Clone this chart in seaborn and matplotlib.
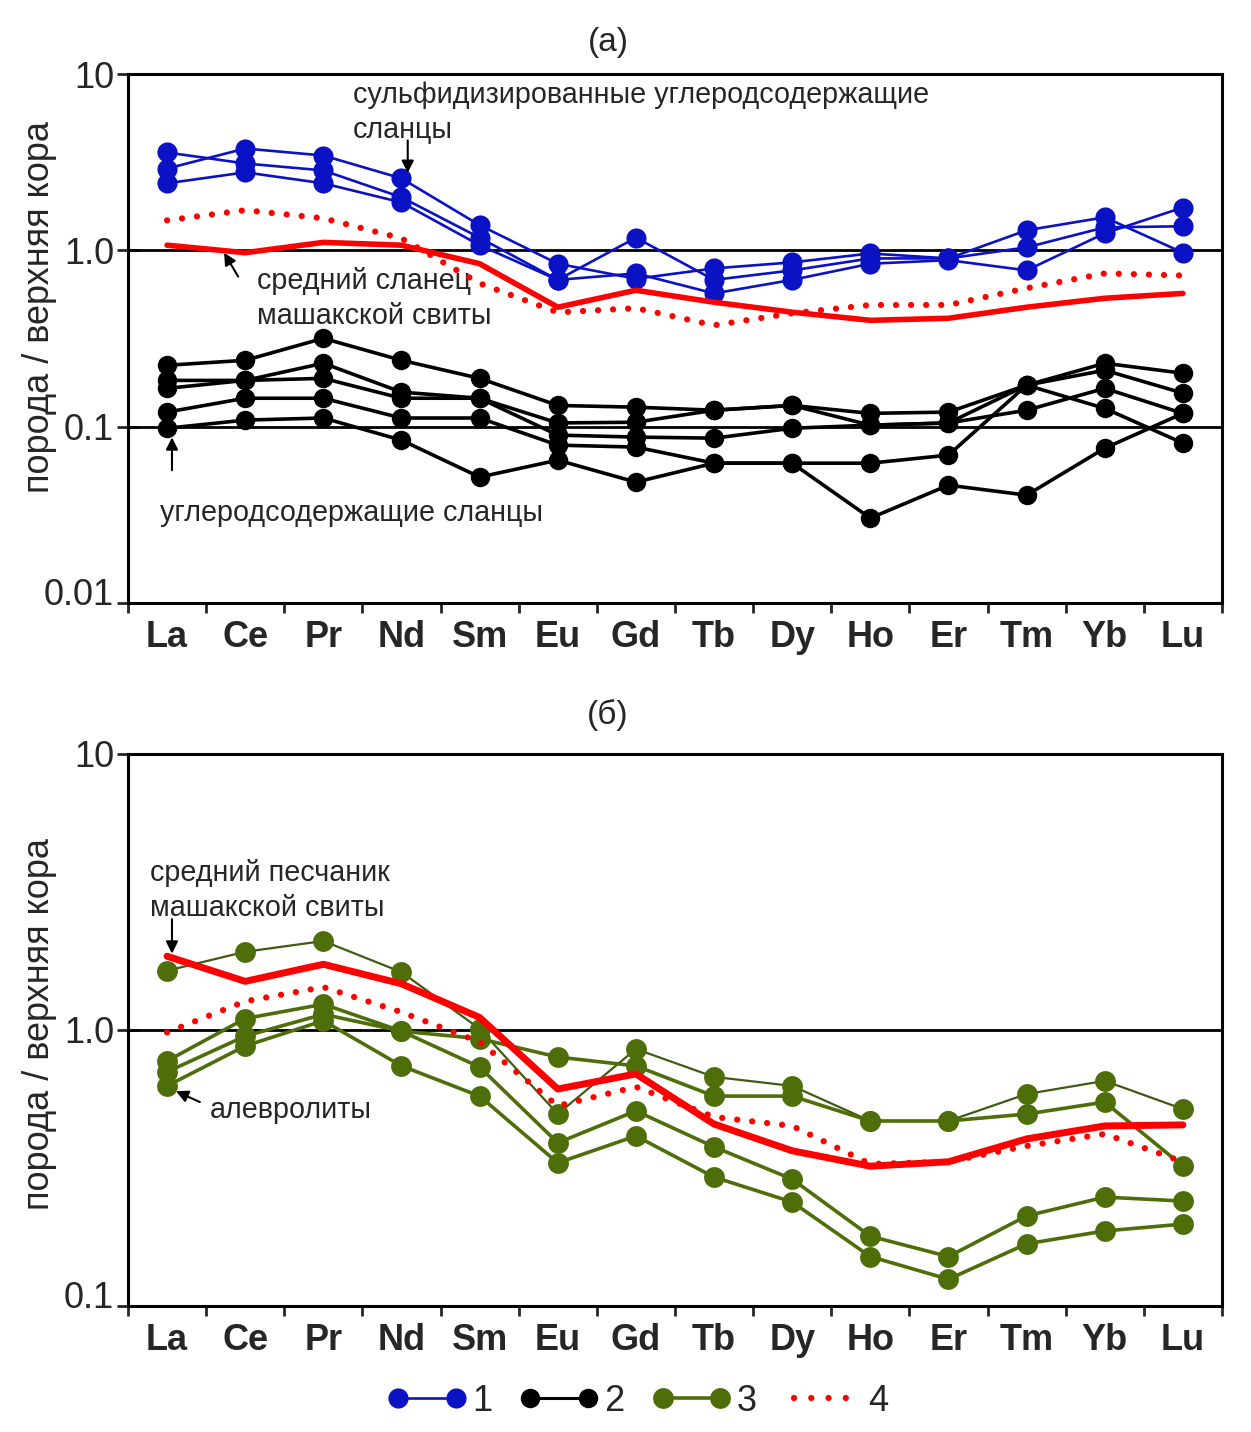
import numpy as np
import pandas as pd
import matplotlib
matplotlib.use('Agg')
import matplotlib.pyplot as plt
import seaborn as sns
from matplotlib.lines import Line2D
from matplotlib.ticker import NullLocator, FixedLocator
from matplotlib.transforms import ScaledTranslation

# 1. Данные (порода / верхняя кора)
elements = ['La', 'Ce', 'Pr', 'Nd', 'Sm', 'Eu', 'Gd', 'Tb', 'Dy', 'Ho', 'Er', 'Tm', 'Yb', 'Lu']

# (а) сульфидизированные углеродсодержащие сланцы
blue_1 = [2.91, 3.78, 3.45, 2.56, 1.39, 0.84, 0.69, 0.79, 0.855, 0.96, 0.90, 1.30, 1.54, 0.97]
blue_2 = [3.59, 3.11, 2.84, 2.00, 1.18, 0.68, 1.18, 0.68, 0.77, 0.90, 0.90, 1.04, 1.35, 1.37]
blue_3 = [2.40, 2.77, 2.40, 1.87, 1.07, 0.68, 0.74, 0.57, 0.68, 0.84, 0.88, 0.77, 1.25, 1.75]

# (а) углеродсодержащие сланцы
black_1 = [0.223, 0.238, 0.317, 0.238, 0.188, 0.132, 0.129, 0.124, 0.132, 0.119, 0.121, 0.172, 0.229, 0.201]
black_2 = [0.183, 0.183, 0.229, 0.157, 0.145, 0.105, 0.106, 0.124, 0.132, 0.102, 0.105, 0.172, 0.209, 0.155]
black_3 = [0.165, 0.183, 0.188, 0.145, 0.145, 0.0896, 0.0873, 0.0861, 0.098, 0.102, 0.105, 0.124, 0.165, 0.119]
black_4 = [0.121, 0.145, 0.145, 0.112, 0.112, 0.0786, 0.0766, 0.0621, 0.0621, 0.0621, 0.069, 0.172, 0.127, 0.0807]
black_5 = [0.098, 0.109, 0.112, 0.0839, 0.0518, 0.0646, 0.0485, 0.0621, 0.0621, 0.0303, 0.0466, 0.0409, 0.0755, 0.119]

# (а) средний сланец машакской свиты и кривая 4
shale_mean = [1.07, 0.97, 1.11, 1.07, 0.84, 0.476, 0.594, 0.508, 0.446, 0.401, 0.412, 0.476, 0.535, 0.57]
dotted_a = [1.48, 1.69, 1.52, 1.17, 0.65, 0.445, 0.47, 0.376, 0.44, 0.49, 0.49, 0.61, 0.74, 0.72]

# (б) алевролиты
green_1 = [1.64, 1.92, 2.10, 1.62, 1.01, 0.496, 0.853, 0.676, 0.627, 0.468, 0.468, 0.586, 0.654, 0.517]
green_2 = [0.772, 1.10, 1.24, 0.99, 0.93, 0.798, 0.741, 0.576, 0.576, 0.468, 0.468, 0.496, 0.548, 0.321]
green_3 = [0.705, 0.95, 1.14, 0.99, 0.734, 0.390, 0.509, 0.377, 0.288, 0.179, 0.151, 0.212, 0.248, 0.240]
green_4 = [0.627, 0.875, 1.08, 0.741, 0.576, 0.330, 0.413, 0.293, 0.238, 0.151, 0.125, 0.168, 0.187, 0.198]

# (б) средний песчаник машакской свиты и кривая 4
sand_mean = [1.85, 1.50, 1.73, 1.47, 1.11, 0.611, 0.693, 0.456, 0.365, 0.321, 0.333, 0.403, 0.449, 0.453]
dotted_b = [0.98, 1.27, 1.43, 1.16, 0.905, 0.531, 0.622, 0.484, 0.449, 0.327, 0.333, 0.380, 0.42, 0.333]

BLUE = '#0b12c4'
GREEN = '#4e6e0a'
GREEN_DARK = '#3f5a12'
RED = '#ff0000'


def long_df(series):
    rows = []
    for name, vals in series.items():
        for i, v in enumerate(vals):
            rows.append({'x': i, 'value': v, 'sample': name})
    return pd.DataFrame(rows)


sns.set_style('ticks')
plt.rcParams['font.family'] = ['Liberation Sans', 'DejaVu Sans']

fig = plt.figure(figsize=(12.51, 14.32), dpi=100)
ax1 = fig.add_axes([0.1023, 0.5789, 0.8745, 0.3694])
ax2 = fig.add_axes([0.1023, 0.0880, 0.8745, 0.3855])

dot_style = (0, (0.01, 2.4))

# 2. Панель (а)
ax1.axhline(1.0, color='black', lw=2, zorder=1)
ax1.axhline(0.1, color='black', lw=2, zorder=1)
sns.lineplot(data=long_df({'k1': black_1, 'k2': black_2, 'k3': black_3, 'k4': black_4, 'k5': black_5}),
             x='x', y='value', units='sample', estimator=None, color='black',
             marker='o', markersize=14, markeredgewidth=0, linewidth=2.6, ax=ax1, zorder=3)
sns.lineplot(data=long_df({'b1': blue_1, 'b2': blue_2, 'b3': blue_3}),
             x='x', y='value', units='sample', estimator=None, color=BLUE,
             marker='o', markersize=14.5, markeredgewidth=0, linewidth=1.9, ax=ax1, zorder=3)
sns.lineplot(x=np.arange(len(elements)), y=shale_mean, color=RED, linewidth=4, ax=ax1, zorder=4)
sns.lineplot(x=np.arange(len(elements)), y=dotted_a, color=RED, linewidth=4.5,
             linestyle=dot_style, dash_capstyle='round', ax=ax1, zorder=4)

# 3. Панель (б)
ax2.axhline(1.0, color='black', lw=2, zorder=1)
sns.lineplot(x=np.arange(len(elements)), y=green_1, color=GREEN_DARK,
             marker='o', markersize=15, markeredgewidth=0, markerfacecolor=GREEN,
             linewidth=1.6, ax=ax2, zorder=3)
sns.lineplot(data=long_df({'g2': green_2, 'g3': green_3, 'g4': green_4}),
             x='x', y='value', units='sample', estimator=None, color=GREEN,
             marker='o', markersize=15, markeredgewidth=0, linewidth=2.6, ax=ax2, zorder=3)
sns.lineplot(x=np.arange(len(elements)), y=sand_mean, color=RED, linewidth=5, ax=ax2, zorder=4)
sns.lineplot(x=np.arange(len(elements)), y=dotted_b, color=RED, linewidth=4.5,
             linestyle=dot_style, dash_capstyle='round', ax=ax2, zorder=4)

# 4. Оформление осей
for ax, ylim, yt, ylab in [(ax1, (0.01, 10), [0.01, 0.1, 1, 10], ['0.01', '0.1', '1.0', '10']),
                           (ax2, (0.1, 10), [0.1, 1, 10], ['0.1', '1.0', '10'])]:
    ax.set_yscale('log')
    ax.set_ylim(*ylim)
    ax.set_xlim(-0.5, 13.5)
    ax.set_yticks(yt)
    ax.set_yticklabels(ylab, fontsize=26)
    ax.yaxis.set_minor_locator(NullLocator())
    ax.tick_params(axis='y', direction='inout', length=16, width=2, pad=2)
    ax.xaxis.set_major_locator(FixedLocator(np.arange(-0.5, 14, 1)))
    ax.xaxis.set_minor_locator(FixedLocator(np.arange(len(elements))))
    ax.set_xticklabels([], minor=False)
    ax.set_xticklabels(elements, minor=True, fontsize=26, fontweight='bold')
    ax.tick_params(axis='x', which='major', direction='out', length=7, width=2)
    ax.tick_params(axis='x', which='minor', length=0, pad=12)
    ax.set_xlabel('')
    ax.set_ylabel('порода / верхняя кора', fontsize=26)
    for s in ax.spines.values():
        s.set_visible(True)
        s.set_linewidth(2.2)
        s.set_color('black')
    # нижняя подпись оси чуть приподнята, как в оригинале
    low = ax.get_yticklabels()[0]
    low.set_transform(low.get_transform() + ScaledTranslation(0, 8 / 72, fig.dpi_scale_trans))

ax1.yaxis.set_label_coords(-0.065, 0.56)
ax2.yaxis.set_label_coords(-0.065, 0.51)

fig.text(608 / 1251, 1 - 42 / 1432, '(а)', fontsize=24, ha='center', va='center')
fig.text(608 / 1251, 1 - 715 / 1432, '(б)', fontsize=24, ha='center', va='center')

# 5. Подписи и стрелки
arrow = dict(arrowstyle='-|>', color='black', lw=1.5, mutation_scale=18, shrinkA=0, shrinkB=0)
ax1.text(2.38, 9.1, 'сульфидизированные углеродсодержащие\nсланцы', fontsize=20.7,
         ha='left', va='top', linespacing=1.3)
ax1.annotate('', xy=(3.08, 2.75), xytext=(3.08, 4.2), arrowprops=arrow)
ax1.text(1.15, 0.80, 'средний сланец\nмашакской свиты', fontsize=20.7,
         ha='left', va='top', linespacing=1.3)
ax1.annotate('', xy=(0.73, 0.97), xytext=(0.91, 0.71), arrowprops=arrow)
ax1.text(-0.09, 0.039, 'углеродсодержащие сланцы', fontsize=20.7, ha='left', va='top')
ax1.annotate('', xy=(0.063, 0.087), xytext=(0.063, 0.0566), arrowprops=arrow)

ax2.text(-0.22, 4.15, 'средний песчаник\nмашакской свиты', fontsize=20.7,
         ha='left', va='top', linespacing=1.3)
ax2.annotate('', xy=(0.063, 1.89), xytext=(0.063, 2.52), arrowprops=arrow)
ax2.text(0.55, 0.512, 'алевролиты', fontsize=20.7, ha='left', va='center')
ax2.annotate('', xy=(0.114, 0.60), xytext=(0.42, 0.548), arrowprops=arrow)

# 6. Легенда
handles = [
    Line2D([], [], color=BLUE, marker='o', markersize=14.5, markeredgewidth=0, lw=1.9),
    Line2D([], [], color='black', marker='o', markersize=14, markeredgewidth=0, lw=2.2),
    Line2D([], [], color=GREEN, marker='o', markersize=15, markeredgewidth=0, lw=2.6),
    Line2D([], [], color=RED, lw=4.5, linestyle=(0, (0.01, 2.75)), dash_capstyle='round'),
]
fig.legend(handles, ['1', '2', '3', '4'], loc='center', bbox_to_anchor=(0.51, 0.0215),
           ncol=4, frameon=False, fontsize=26, handlelength=2.2, columnspacing=0.75,
           handletextpad=0.15, numpoints=2)

plt.savefig('out.png', dpi=100)
